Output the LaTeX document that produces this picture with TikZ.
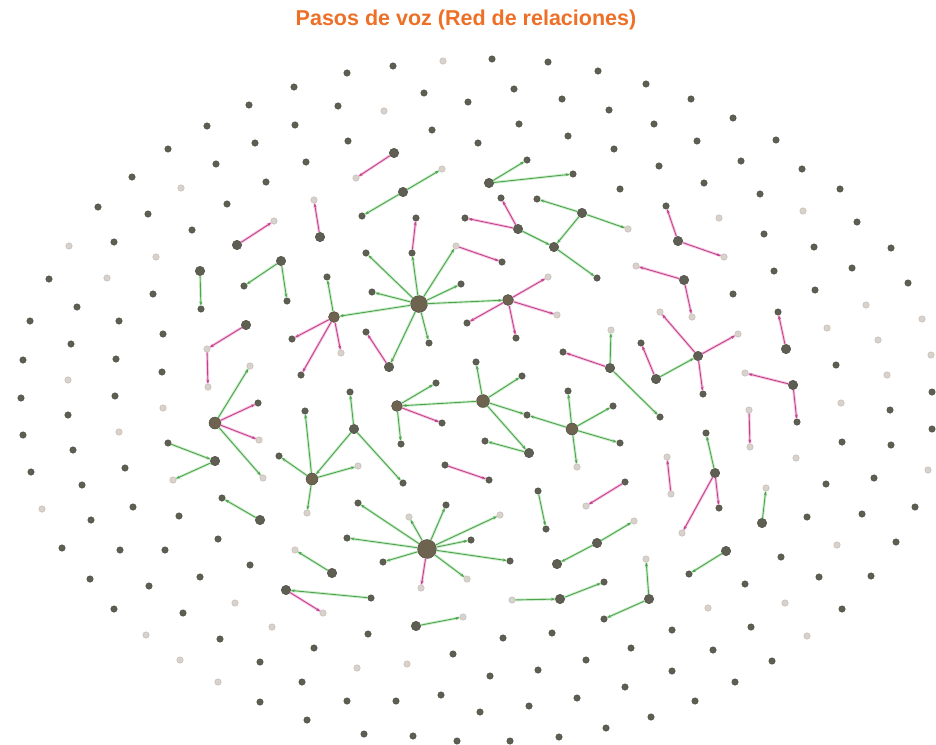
\documentclass[tikz,border=0pt]{standalone}
\usepackage{fontspec}
\setmainfont{Liberation Sans}
\usetikzlibrary{arrows.meta}
\definecolor{dotgray}{HTML}{5E5E52}
\definecolor{dotedge}{HTML}{46463D}
\definecolor{palegray}{HTML}{D9D2CC}
\definecolor{paleedge}{HTML}{BFB7AF}
\definecolor{grcore}{HTML}{4FA34F}
\definecolor{grhalo}{HTML}{CFEFCF}
\definecolor{mgcore}{HTML}{C2438C}
\definecolor{mghalo}{HTML}{F6C8E2}
\definecolor{titleorange}{HTML}{EE6F26}
\begin{document}
\begin{tikzpicture}[x=1pt,y=-1pt,
  darkdot/.style={circle,inner sep=0pt,minimum size=6.5pt,fill=dotgray,draw=dotedge,line width=0.4pt},
  paledot/.style={circle,inner sep=0pt,minimum size=6.5pt,fill=palegray,draw=paleedge,line width=0.4pt},
  middot/.style={darkdot,minimum size=9.5pt},
  hubdot/.style={darkdot,fill=dotgray!85!brown,minimum size=13pt},
  bighub/.style={hubdot,minimum size=19pt},
  gr/.style={draw=grcore,line width=0.9pt,-{Stealth[length=4pt,width=3pt]},
    preaction={draw=grhalo,line width=2.8pt,arrows=-}},
  mg/.style={draw=mgcore,line width=0.9pt,-{Stealth[length=4pt,width=3pt]},
    preaction={draw=mghalo,line width=2.8pt,arrows=-}}]
\useasboundingbox (0,0) rectangle (936,744);
\node[font=\bfseries\fontsize{21.5}{24}\selectfont,text=titleorange] (title) at (466,20) {Pasos de voz (Red de relaciones)};

% nodes without relations
\foreach \px/\py [count=\k] in {347/73,393/66,294/87,424/93,338/106,249/105,468/102,295/125,207/126,432/130,
  348/141,255/143,168/149,216/164,306/162,266/182,132/177,227/204,98/207,148/214,192/230,114/242,49/279,
  153/294,77/307,30/321,119/321,163/334,71/344,
  492/59,548/62,598/71,646/84,514/89,562/99,609/110,691/99,519/124,654/124,733/118,478/143,568/136,614/149,
  697/141,776/140,659/166,741/161,802/169,620/189,704/183,760/194,840/189,857/222,764/234,814/247,891/248,
  774/271,852/268,908/283,733/294,815/290,
  23/360,116/359,162/372,21/398,115/396,68/415,23/435,73/450,31/472,125/468,82/485,133/507,91/520,179/516,
  62/548,120/550,165/550,218/539,90/579,149/586,200/577,250/565,114/609,183/613,220/639,260/662,314/648,
  368/634,302/682,453/654,260/702,347/701,396/701,441/695,307/720,364/734,413/736,457/741,
  836/365,932/392,890/410,932/429,842/442,891/445,826/484,874/478,915/507,807/517,862/514,896/542,781/557,
  819/577,871/576,745/584,842/609,751/627,672/630,713/650,772/661,631/648,503/638,552/633,586/660,672/671,
  735/682,538/670,490/676,625/687,695/701,577/698,529/706,480/712,651/717,606/728,559/737,510/741}
  \node[darkdot] (o\k) at (\px,\py) {};
\foreach \px/\py [count=\k] in {443/61,384/111,181/188,69/246,156/257,107/278,719/218,803/211,866/305,
  922/319,827/328,878/340,68/380,163/408,119/432,42/509,235/603,146/635,272/627,180/660,218/682,357/668,
  407/664,931/355,887/375,841/403,796/458,928/470,837/545,785/603,708/608,807/636}
  \node[paledot] (l\k) at (\px,\py) {};

% upper groups
\node[middot] (a1) at (394,153) {};
\node[paledot] (a2) at (356,178) {};
\node[middot] (b0) at (403,192) {};
\node[paledot] (b1) at (442,169) {};
\node[darkdot] (b2) at (362,216) {};
\node[middot] (c1) at (320,237) {};
\node[paledot] (c2) at (314,200) {};
\node[middot] (d1) at (237,245) {};
\node[paledot] (d2) at (274,221) {};
\node[middot] (e0) at (281,261) {};
\node[darkdot] (e1) at (244,286) {};
\node[darkdot] (e2) at (287,301) {};
\node[middot] (f1) at (200,271) {};
\node[darkdot] (f2) at (201,309) {};
\node[middot] (i1) at (246,325) {};
\node[paledot] (i2) at (207,349) {};
\node[paledot] (i3) at (208,387) {};
\node[middot] (j0) at (489,183) {};
\node[darkdot] (j1) at (527,160) {};
\node[darkdot] (j2) at (573,174) {};
\node[middot] (n0) at (518,229) {};
\node[darkdot] (n1) at (501,198) {};
\node[darkdot] (n2) at (465,218) {};
\node[middot] (n3) at (554,247) {};
\node[middot] (n4) at (582,213) {};
\node[darkdot] (n5) at (537,199) {};
\node[paledot] (n6) at (628,229) {};
\node[darkdot] (n7) at (597,278) {};
\node[middot] (p0) at (678,241) {};
\node[darkdot] (p1) at (666,206) {};
\node[paledot] (p2) at (724,257) {};
\node[middot] (q0) at (684,280) {};
\node[paledot] (q1) at (636,266) {};
\node[paledot] (q2) at (692,317) {};

% main hub
\node[bighub,minimum size=17pt] (h1) at (419,304) {};
\node[darkdot] (g1) at (366,253) {};
\node[darkdot] (g2) at (412,253) {};
\node[paledot] (g3) at (456,246) {};
\node[darkdot] (g4) at (461,284) {};
\node[darkdot] (g5) at (372,292) {};
\node[darkdot] (g6) at (429,343) {};
\node[middot] (g7) at (389,367) {};
\node[darkdot] (g8) at (416,218) {};
\node[darkdot] (g9) at (502,262) {};
\node[darkdot] (g10) at (366,332) {};
\node[hubdot,minimum size=11pt] (h2) at (334,317) {};
\node[darkdot] (k1) at (327,277) {};
\node[darkdot] (k2) at (292,339) {};
\node[paledot] (k3) at (341,353) {};
\node[darkdot] (k4) at (301,375) {};
\node[hubdot,minimum size=11pt] (h3) at (508,300) {};
\node[paledot] (m1) at (548,277) {};
\node[paledot] (m2) at (557,315) {};
\node[darkdot] (m3) at (516,338) {};
\node[darkdot] (m4) at (467,323) {};

% middle right
\node[middot] (r0) at (610,368) {};
\node[paledot] (r1) at (611,330) {};
\node[darkdot] (r2) at (563,352) {};
\node[darkdot] (r3) at (660,417) {};
\node[middot] (s0) at (698,356) {};
\node[paledot] (s1) at (660,312) {};
\node[paledot] (s2) at (738,334) {};
\node[darkdot] (s3) at (703,394) {};
\node[middot] (s4) at (656,379) {};
\node[darkdot] (s5) at (641,343) {};
\node[middot] (t0) at (793,385) {};
\node[paledot] (t1) at (745,373) {};
\node[darkdot] (t2) at (797,422) {};
\node[middot] (u1) at (786,349) {};
\node[darkdot] (u2) at (778,312) {};

% centre
\node[hubdot] (h4) at (483,401) {};
\node[darkdot] (v1) at (476,362) {};
\node[darkdot] (v2) at (522,376) {};
\node[middot] (v3) at (529,453) {};
\node[darkdot] (v4) at (527,415) {};
\node[darkdot] (v5) at (485,441) {};
\node[hubdot,minimum size=12pt] (h5) at (572,429) {};
\node[darkdot] (w1) at (568,391) {};
\node[darkdot] (w2) at (613,406) {};
\node[darkdot] (w3) at (620,443) {};
\node[paledot] (w4) at (577,467) {};
\node[hubdot,minimum size=11pt] (h6) at (397,406) {};
\node[darkdot] (x1) at (436,383) {};
\node[darkdot] (x2) at (401,444) {};
\node[darkdot] (x3) at (442,423) {};
\node[darkdot] (y1) at (445,465) {};
\node[darkdot] (y2) at (489,480) {};
\node[darkdot] (z1) at (538,491) {};
\node[darkdot] (z2) at (546,529) {};
\node[darkdot] (aa1) at (625,482) {};
\node[paledot] (aa2) at (586,506) {};
\node[paledot] (ab1) at (671,494) {};
\node[paledot] (ab2) at (667,457) {};
\node[paledot] (ac1) at (749,410) {};
\node[paledot] (ac2) at (750,447) {};
\node[middot] (ad0) at (715,473) {};
\node[darkdot] (ad1) at (706,433) {};
\node[darkdot] (ad2) at (719,508) {};
\node[paledot] (ad3) at (682,533) {};
\node[middot] (ae1) at (762,523) {};
\node[paledot] (ae2) at (766,488) {};

% left
\node[hubdot,minimum size=12pt] (h8) at (215,423) {};
\node[paledot] (am1) at (250,366) {};
\node[darkdot] (am2) at (258,403) {};
\node[paledot] (am3) at (259,440) {};
\node[paledot] (am4) at (263,478) {};
\node[middot] (an0) at (215,461) {};
\node[darkdot] (an1) at (168,443) {};
\node[paledot] (an2) at (173,480) {};
\node[middot] (ao1) at (260,520) {};
\node[darkdot] (ao2) at (222,498) {};
\node[hubdot,minimum size=12pt] (h9) at (312,479) {};
\node[darkdot] (ap1) at (305,411) {};
\node[darkdot] (ap2) at (279,456) {};
\node[paledot] (ap3) at (358,466) {};
\node[paledot] (ap4) at (307,513) {};
\node[middot] (aq0) at (354,429) {};
\node[darkdot] (aq1) at (350,392) {};
\node[darkdot] (aq2) at (403,483) {};

% lower hub and groups
\node[bighub] (h7) at (427,549) {};
\node[darkdot] (ai1) at (358,503) {};
\node[paledot] (ai2) at (409,517) {};
\node[darkdot] (ai3) at (446,505) {};
\node[darkdot] (ai4) at (347,538) {};
\node[darkdot] (ai5) at (383,562) {};
\node[paledot] (ai6) at (500,515) {};
\node[darkdot] (ai7) at (471,540) {};
\node[darkdot] (ai8) at (510,561) {};
\node[paledot] (ai9) at (467,579) {};
\node[paledot] (ai10) at (421,588) {};
\node[middot] (ar1) at (332,573) {};
\node[paledot] (ar2) at (295,550) {};
\node[middot] (as0) at (286,590) {};
\node[darkdot] (as1) at (371,598) {};
\node[paledot] (as2) at (323,613) {};
\node[middot] (al1) at (416,626) {};
\node[paledot] (al2) at (463,617) {};
\node[middot] (ag0) at (597,543) {};
\node[middot] (ag1) at (557,564) {};
\node[paledot] (ag2) at (634,521) {};
\node[middot] (ah1) at (726,551) {};
\node[darkdot] (ah2) at (689,574) {};
\node[middot] (aj0) at (560,599) {};
\node[paledot] (aj1) at (512,600) {};
\node[darkdot] (aj2) at (604,582) {};
\node[middot] (ak0) at (649,599) {};
\node[paledot] (ak1) at (646,559) {};
\node[darkdot] (ak2) at (604,619) {};

% relations
\foreach \s/\t in {b0/b1,b0/b2,e0/e1,e0/e2,f1/f2,h1/g1,h1/g2,h1/g3,h1/g4,h1/h3,h1/g5,h1/g6,h1/g7,h1/h2,
  h2/k1,j0/j1,j0/j2,n0/n3,n4/n5,n4/n6,n4/n3,n3/n7,r0/r1,r0/r3,s4/s0,h4/v1,h4/v2,h4/v3,h4/v4,h4/h6,v3/v5,
  h5/v4,h5/w1,h5/w2,h5/w3,h5/w4,h6/x1,h6/x2,z1/z2,ad0/ad1,ae1/ae2,ag0/ag1,ag0/ag2,ah1/ah2,
  h7/ai1,h7/ai2,h7/ai3,h7/ai4,h7/ai5,h7/ai6,h7/ai7,h7/ai8,h7/ai9,aj1/aj0,aj0/aj2,ak0/ak1,ak0/ak2,al1/al2,
  h8/am1,h8/am4,an1/an0,an0/an2,ao1/ao2,h9/ap1,h9/ap2,h9/ap3,h9/ap4,aq0/h9,aq0/aq1,aq0/aq2,ar1/ar2,as1/as0}
  \draw[gr] (\s) -- (\t);
\foreach \s/\t in {a1/a2,c1/c2,d1/d2,g2/g8,g3/g9,g7/g10,h2/k2,h2/k3,h2/k4,i1/i2,i2/i3,h3/m1,h3/m2,h3/m3,
  h3/m4,n0/n1,n0/n2,p0/p1,p0/p2,q0/q1,q0/q2,r0/r2,s0/s1,s0/s2,s0/s3,s4/s5,t0/t1,t0/t2,u1/u2,h6/x3,y1/y2,
  aa1/aa2,ab1/ab2,ac1/ac2,ad0/ad2,ad0/ad3,h7/ai10,h8/am2,h8/am3,as0/as2}
  \draw[mg] (\s) -- (\t);
\end{tikzpicture}
\end{document}
